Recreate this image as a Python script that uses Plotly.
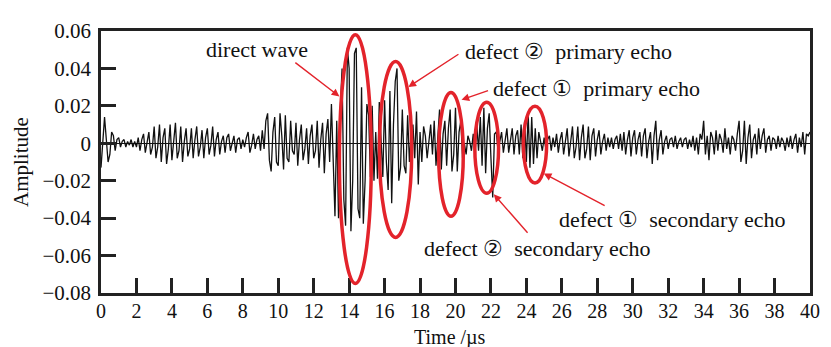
import plotly.graph_objects as go

# ---- data ----
time_step_us = 0.1
amplitude = [
    -0.013, 0.003, 0.014, 0.002, -0.010, -0.006, 0.006, 0.004, -0.004, 0.002,
    0.003, -0.002, 0.001, 0.002, -0.002, 0.001, -0.001, 0.002, -0.002, 0.001,
    -0.002, 0.003, -0.004, 0.002, 0.005, -0.005, 0.001, 0.006, -0.006, -0.002,
    0.009, -0.008, -0.002, 0.010, -0.010, 0.003, 0.008, -0.011, -0.003, 0.010,
    -0.009, 0.002, 0.011, -0.008, -0.004, 0.009, -0.010, 0.001, 0.008, -0.007,
    -0.003, 0.008, -0.008, 0.002, 0.009, -0.007, -0.002, 0.007, -0.008, 0.003,
    0.008, -0.006, -0.001, 0.009, -0.007, 0.002, 0.006, -0.006, 0.001, 0.004,
    -0.005, 0.003, 0.005, -0.004, 0.001, 0.004, -0.005, 0.002, 0.003, -0.003,
    0.002, -0.002, 0.003, 0.006, -0.005, -0.001, 0.005, -0.003, 0.002, 0.004,
    -0.004, 0.007, -0.003, 0.012, 0.016, -0.009, -0.015, 0.006, 0.014, -0.010,
    -0.012, 0.016, 0.004, -0.014, 0.015, -0.008, -0.010, 0.012, -0.004, -0.006,
    0.011, -0.012, 0.002, 0.010, -0.009, -0.003, 0.008, -0.011, 0.004, 0.010,
    -0.008, -0.004, 0.012, -0.013, 0.002, 0.011, -0.016, 0.005, 0.013, -0.010,
    0.021, -0.010, -0.039, 0.012, -0.040, 0.018, 0.040, -0.030, -0.044, 0.051,
    0.040, -0.047, -0.020, 0.048, 0.051, -0.035, -0.040, 0.030, -0.043, -0.020,
    0.021, 0.015, -0.018, 0.020, -0.020, 0.006, -0.019, 0.022, 0.005, -0.018,
    0.023, -0.010, -0.025, 0.028, -0.032, 0.010, 0.033, 0.040, -0.020, -0.013,
    0.018, -0.012, -0.016, 0.015, -0.010, 0.006, 0.010, -0.008, 0.017, -0.022,
    0.006, -0.010, 0.009, 0.004, -0.008, 0.003, 0.010, -0.006, 0.012, -0.012,
    0.003, 0.018, -0.014, 0.005, 0.012, -0.012, 0.008, 0.018, -0.015, -0.006,
    0.019, -0.015, 0.006, 0.012, -0.008, 0.000, -0.006, 0.004, 0.001, -0.004,
    0.005, -0.006, 0.010, -0.004, 0.014, -0.012, 0.019, -0.016, 0.008, 0.016,
    -0.008, -0.029, 0.005, 0.006, -0.004, 0.002, 0.006, -0.005, 0.003, 0.008,
    -0.005, 0.002, 0.008, -0.006, 0.004, 0.007, -0.006, 0.010, -0.008, 0.012,
    -0.010, 0.016, -0.013, 0.014, -0.011, 0.008, -0.008, 0.006, 0.001, -0.004,
    0.003, -0.003, 0.002, 0.004, -0.004, 0.003, -0.002, 0.005, -0.005, 0.002,
    0.006, -0.006, 0.001, 0.008, -0.007, 0.002, 0.009, -0.008, -0.002, 0.009,
    -0.009, 0.003, 0.010, -0.008, -0.003, 0.009, -0.009, 0.004, 0.008, -0.007,
    0.002, 0.007, -0.006, 0.001, 0.005, -0.004, 0.003, -0.002, 0.003, -0.003,
    0.002, 0.004, -0.003, 0.005, -0.004, 0.006, -0.006, 0.002, 0.007, -0.007,
    0.003, 0.007, -0.006, 0.002, 0.006, -0.007, 0.004, 0.008, -0.008, 0.001,
    0.006, -0.011, 0.004, 0.012, -0.009, 0.002, 0.007, -0.006, 0.001, 0.004,
    -0.003, 0.002, 0.003, -0.002, 0.004, -0.003, 0.001, 0.003, -0.002, 0.002,
    0.003, -0.003, 0.002, -0.002, 0.004, -0.004, 0.003, -0.006, 0.005, 0.002,
    0.012, -0.006, 0.004, -0.009, 0.006, 0.003, -0.006, 0.007, -0.004, 0.005,
    0.002, -0.005, 0.008, -0.003, 0.003, -0.006, 0.004, 0.002, -0.004, 0.005,
    0.012, -0.010, -0.004, 0.012, -0.011, 0.003, 0.010, -0.008, 0.002, 0.005,
    -0.006, 0.008, -0.003, 0.004, 0.008, -0.005, 0.002, 0.004, -0.004, 0.003,
    0.002, -0.003, 0.004, -0.002, 0.003, 0.001, -0.004, 0.003, -0.002, 0.004,
    -0.003, 0.002, 0.005, -0.005, 0.003, -0.002, 0.006, -0.006, 0.005, 0.004,
    0.006,
]
time_us = [round(i * time_step_us, 1) for i in range(len(amplitude))]

x_tick_vals = list(range(0, 41, 2))
x_tick_text = [str(v) for v in x_tick_vals]
y_tick_vals = [-0.08, -0.06, -0.04, -0.02, 0, 0.02, 0.04, 0.06]
y_tick_text = ["\u22120.08", "\u22120.06", "\u22120.04", "\u22120.02", "0", "0.02", "0.04", "0.06"]

# annotation regions (ellipses) : x0, x1, y0, y1
ellipses = [
    (13.45, 15.25, -0.0749, 0.0580),
    (15.71, 17.53, -0.0503, 0.0437),
    (19.05, 20.44, -0.0390, 0.0272),
    (21.09, 22.43, -0.0267, 0.0219),
    (23.83, 25.14, -0.0212, 0.0198),
]
labels = [
    ("direct wave", 8.82, 0.0503),
    ("defect \u2461  primary echo", 26.37, 0.0489),
    ("defect \u2460  primary echo", 27.93, 0.0292),
    ("defect \u2460  secondary echo", 32.21, -0.0409),
    ("defect \u2461  secondary echo", 24.62, -0.0563),
]
# arrows: tail (x, y) -> head (x, y)
arrows = [
    ((10.88, 0.0437), (13.45, 0.0250)),
    ((20.25, 0.0481), (17.34, 0.0301)),
    ((21.92, 0.0284), (20.34, 0.0232)),
    ((24.14, -0.0486), (22.16, -0.0272)),
    ((28.50, -0.0337), (24.98, -0.0161)),
]

RED = "#e3232b"
FONT = "Liberation Serif"

fig = go.Figure()
fig.add_trace(go.Scatter(x=time_us, y=amplitude, mode="lines",
                         line=dict(color="#111111", width=1.3),
                         showlegend=False, hoverinfo="skip"))

for x0, x1, y0, y1 in ellipses:
    fig.add_shape(type="circle", xref="x", yref="y", x0=x0, x1=x1, y0=y0, y1=y1,
                  line=dict(color=RED, width=3.5))

for (tx, ty), (hx, hy) in arrows:
    fig.add_annotation(x=hx, y=hy, ax=tx, ay=ty, xref="x", yref="y",
                       axref="x", ayref="y", text="", showarrow=True,
                       arrowhead=2, arrowsize=1.1, arrowwidth=1.4, arrowcolor=RED)

for txt, x, y in labels:
    fig.add_annotation(x=x, y=y, xref="x", yref="y", text=txt, showarrow=False,
                       xanchor="center", yanchor="middle",
                       font=dict(family=FONT, size=22, color="#111111"))

fig.add_annotation(x=0, y=0.5, xref="paper", yref="paper", xshift=-80,
                   text="Amplitude", textangle=-90, showarrow=False,
                   xanchor="center", yanchor="middle",
                   font=dict(family=FONT, size=21, color="#111111"))
fig.add_annotation(x=0.492, y=0, xref="paper", yref="paper", yshift=-44,
                   text="Time /\u00b5s", showarrow=False,
                   xanchor="center", yanchor="middle", borderpad=0,
                   font=dict(family=FONT, size=20, color="#111111"))

axis_common = dict(showgrid=False, ticks="inside", ticklen=15, tickwidth=3,
                   tickcolor="#222222", showline=True, linewidth=2.5,
                   linecolor="#222222", mirror=True)

fig.update_xaxes(range=[0, 40], tickmode="array", tickvals=x_tick_vals,
                 ticktext=x_tick_text, zeroline=False, ticklabelstandoff=-2,
                 tickfont=dict(family=FONT, size=20, color="#111111"),
                 **axis_common)
fig.update_yaxes(range=[-0.08, 0.06], tickmode="array", tickvals=y_tick_vals,
                 ticktext=y_tick_text, zeroline=True, zerolinecolor="#111111",
                 zerolinewidth=1, ticklabelstandoff=3,
                 tickfont=dict(family=FONT, size=21, color="#111111"),
                 **axis_common)

# page body has an 8px margin: figure placed at (8, 8)
fig.update_layout(width=823, height=339, margin=dict(l=93, r=11, t=12, b=54),
                  plot_bgcolor="white", paper_bgcolor="white")

fig.write_html("out.html")
